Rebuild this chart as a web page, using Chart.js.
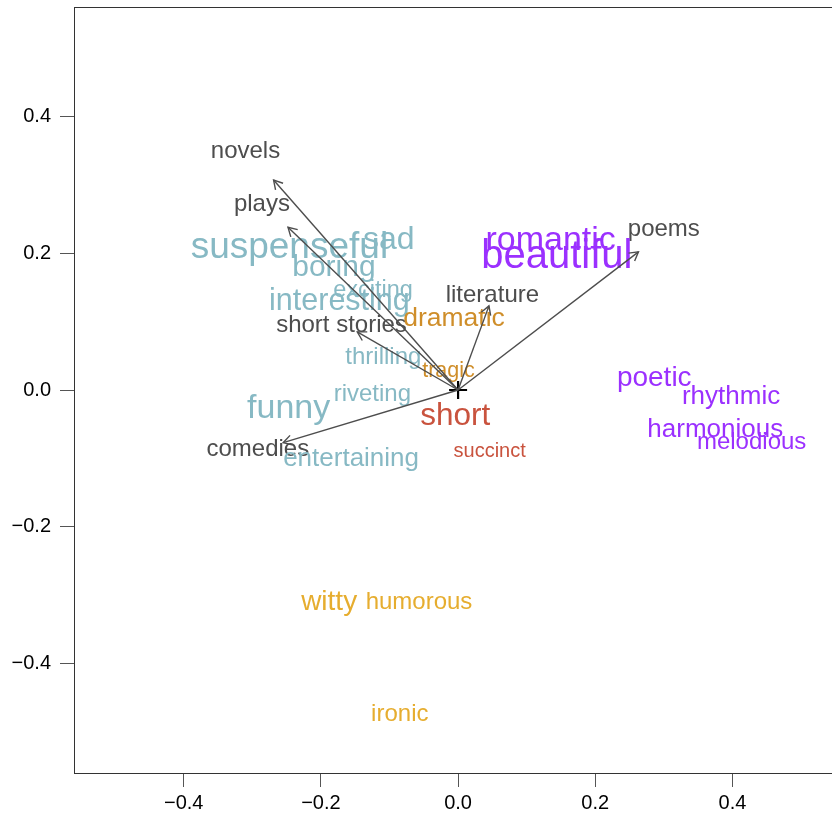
<!DOCTYPE html>
<html>
<head>
<meta charset="utf-8">
<script src="https://cdn.jsdelivr.net/npm/chart.js@4/dist/chart.umd.min.js"></script>
<style>
  html, body { margin: 0; padding: 0; background: #fff; overflow: hidden; }
  #wrap { position: absolute; left: 0; top: 0; width: 840px; height: 815px; }
</style>
</head>
<body>
<div id="wrap"><canvas id="c" width="840" height="815"></canvas></div>
<script>
// Genre directions (arrows from the origin)
const genres = ['novels', 'plays', 'short stories', 'literature', 'poems', 'comedies'];
const genreTipX = [-0.269, -0.248, -0.147, 0.045, 0.263, -0.255];
const genreTipY = [0.307, 0.238, 0.085, 0.123, 0.202, -0.077];
const genreLabelX = [-0.310, -0.286, -0.170, 0.050, 0.300, -0.292];
const genreLabelY = [0.352, 0.274, 0.097, 0.142, 0.238, -0.084];

// Adjectives: coordinates, text size and cluster
const terms = ['suspenseful', 'sad', 'boring', 'exciting', 'interesting', 'thrilling', 'riveting', 'funny', 'entertaining',
  'dramatic', 'tragic', 'short', 'succinct',
  'romantic', 'beautiful', 'poetic', 'rhythmic', 'harmonious', 'melodious',
  'witty', 'humorous', 'ironic'];
const termX = [-0.246, -0.101, -0.181, -0.124, -0.173, -0.109, -0.125, -0.247, -0.156,
  -0.006, -0.014, -0.004, 0.046,
  0.135, 0.144, 0.286, 0.398, 0.375, 0.428,
  -0.188, -0.057, -0.085];
const termY = [0.213, 0.223, 0.183, 0.149, 0.133, 0.050, -0.004, -0.023, -0.097,
  0.107, 0.031, -0.035, -0.088,
  0.223, 0.199, 0.020, -0.007, -0.055, -0.073,
  -0.307, -0.308, -0.472];
const termSize = [37, 32, 30, 23.5, 30.5, 24, 24, 34, 26,
  26.5, 21.5, 31.5, 20,
  34, 40, 28, 26, 26, 24,
  28, 24, 24];
const termCluster = [1, 1, 1, 1, 1, 1, 1, 1, 1,
  2, 2, 3, 3,
  4, 4, 4, 4, 4, 4,
  5, 5, 5];

const xTicks = [-0.4, -0.2, 0.0, 0.2, 0.4];
const yTicks = [-0.4, -0.2, 0.0, 0.2, 0.4];

const clusterColors = ['#4d4d4d', '#87b9c4', '#cf8e2a', '#c9533e', '#9b30ff', '#e6ad2f'];
const FONT = '"Liberation Sans", Arial, Helvetica, sans-serif';
const GENRE_SIZE = 24;

const fmt = v => (v < 0 ? '\u2212' : '') + Math.abs(v).toFixed(1);

function drawWord(ctx, chart, text, x, y, size, color) {
  const px = chart.scales.x.getPixelForValue(x);
  const py = chart.scales.y.getPixelForValue(y);
  ctx.font = size + 'px ' + FONT;
  ctx.fillStyle = color;
  ctx.textAlign = 'center';
  ctx.textBaseline = 'alphabetic';
  ctx.fillText(text, px, py + 0.36 * size);
}

const wordsPlugin = {
  id: 'words',
  beforeDatasetsDraw(chart) {
    const ctx = chart.ctx;
    ctx.save();
    genres.forEach((g, i) => drawWord(ctx, chart, g, genreLabelX[i], genreLabelY[i], GENRE_SIZE, clusterColors[0]));
    for (let c = 1; c <= 5; c++) {
      terms.forEach((t, i) => {
        if (termCluster[i] === c) drawWord(ctx, chart, t, termX[i], termY[i], termSize[i], clusterColors[c]);
      });
    }
    ctx.restore();
  },
  afterDatasetsDraw(chart) {
    const ctx = chart.ctx;
    const xs = chart.scales.x, ys = chart.scales.y;
    ctx.save();
    ctx.strokeStyle = '#4d4d4d';
    ctx.lineWidth = 1.4;
    const ox = xs.getPixelForValue(0), oy = ys.getPixelForValue(0);
    genres.forEach((g, i) => {
      const tx = xs.getPixelForValue(genreTipX[i]);
      const ty = ys.getPixelForValue(genreTipY[i]);
      const a = Math.atan2(ty - oy, tx - ox);
      const L = 10, w = Math.PI / 6;
      ctx.beginPath();
      ctx.moveTo(tx - L * Math.cos(a - w), ty - L * Math.sin(a - w));
      ctx.lineTo(tx, ty);
      ctx.lineTo(tx - L * Math.cos(a + w), ty - L * Math.sin(a + w));
      ctx.stroke();
    });
    // frame around the plotting region
    const ca = chart.chartArea;
    ctx.strokeStyle = '#333';
    ctx.lineWidth = 1;
    ctx.strokeRect(Math.round(ca.left) + 0.5, Math.round(ca.top) + 0.5, ca.right - ca.left, ca.bottom - ca.top);
    ctx.restore();
  }
};

const datasets = genres.map((g, i) => ({
  label: g,
  data: [{ x: 0, y: 0 }, { x: genreTipX[i], y: genreTipY[i] }],
  showLine: true,
  borderColor: '#4d4d4d',
  borderWidth: 1.4,
  pointRadius: 0,
  pointHoverRadius: 0,
  fill: false
}));
datasets.push({
  label: 'origin',
  data: [{ x: 0, y: 0 }],
  pointStyle: 'cross',
  pointRadius: 9,
  borderColor: '#000',
  borderWidth: 2.2,
  backgroundColor: '#000'
});

function noEdgePadding(s) {
  s.paddingTop = 0; s.paddingBottom = 0; s.paddingLeft = 0; s.paddingRight = 0;
}

new Chart(document.getElementById('c'), {
  type: 'scatter',
  data: { datasets },
  options: {
    responsive: false,
    animation: false,
    events: [],
    layout: { autoPadding: false, padding: { top: 7, right: 4, left: 0, bottom: 0 } },
    plugins: { legend: { display: false }, tooltip: { enabled: false } },
    scales: {
      x: {
        type: 'linear',
        min: -0.56,
        max: 0.551,
        position: 'bottom',
        afterBuildTicks: s => { s.ticks = xTicks.map(v => ({ value: v })); },
        afterFit: s => { s.height = 42; noEdgePadding(s); },
        grid: { drawOnChartArea: false, drawTicks: true, tickLength: 14, tickColor: '#555', tickWidth: 1 },
        border: { display: true, color: '#333', width: 1 },
        ticks: { color: '#000', font: { family: FONT, size: 20 }, padding: 4, maxRotation: 0, callback: v => fmt(v) }
      },
      y: {
        type: 'linear',
        min: -0.56,
        max: 0.56,
        position: 'left',
        afterBuildTicks: s => { s.ticks = yTicks.map(v => ({ value: v })); },
        afterFit: s => { s.width = 74; noEdgePadding(s); },
        grid: { drawOnChartArea: false, drawTicks: true, tickLength: 14, tickColor: '#555', tickWidth: 1 },
        border: { display: true, color: '#333', width: 1 },
        ticks: { color: '#000', font: { family: FONT, size: 20 }, padding: 9, callback: v => fmt(v) }
      }
    }
  },
  plugins: [wordsPlugin]
});
</script>
</body>
</html>
